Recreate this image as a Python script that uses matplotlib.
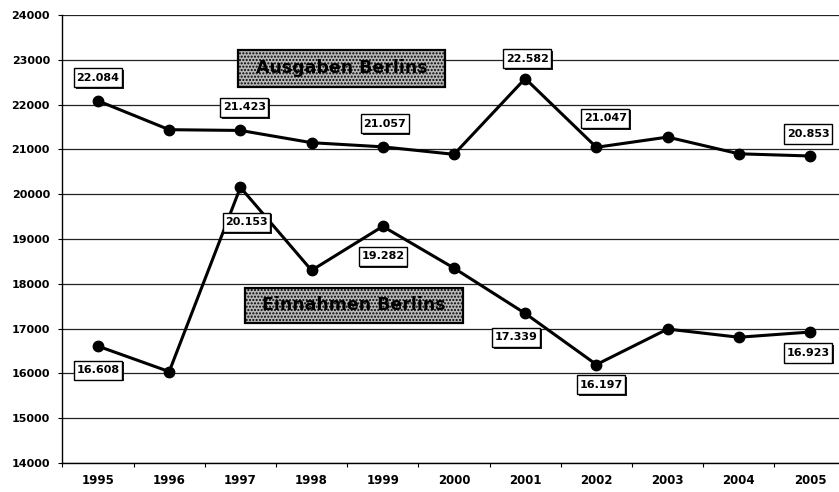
import numpy as np
import matplotlib.pyplot as plt
from matplotlib import patheffects as pe
from matplotlib.patches import Rectangle

# data
years = ['1995', '1996', '1997', '1998', '1999', '2000',
         '2001', '2002', '2003', '2004', '2005']
ausgaben = [22084, 21440, 21423, 21150, 21057, 20890,
            22582, 21047, 21275, 20902, 20853]
einnahmen = [16608, 16040, 20153, 18300, 19282, 18350,
             17339, 16197, 16990, 16807, 16923]

# which points carry a value label, and where the label sits (offset in px)
aus_labels = {0: (0, 23), 2: (4, 23), 4: (2, 23), 6: (2, 20), 7: (9, 29), 10: (-2, 22)}
ein_labels = {0: (0, -24), 2: (6, -35), 4: (0, -30), 6: (-9, -24), 7: (5, -20), 10: (-2, -21)}

def fmt(v):
    # German thousands separator
    return '{:,}'.format(v).replace(',', '.')

W, H = 839, 492
fig = plt.figure(figsize=(W / 100, H / 100), dpi=100)
ax = fig.add_axes([62.4 / W, 29 / H, 783.2 / W, 448 / H])

x = np.arange(len(years))
for vals in (ausgaben, einnahmen):
    ax.plot(x, vals, color='black', lw=2.2, marker='o', markersize=7.5,
            solid_joinstyle='round', zorder=3)

ax.set_xlim(-0.5, len(years) - 0.5)
ax.set_ylim(14000, 24000)
ax.set_yticks(np.arange(14000, 24001, 1000))
ax.yaxis.grid(True, color='#222222', lw=0.9)
ax.set_axisbelow(True)

ax.set_xticks(x)
ax.set_xticklabels(years)
ax.set_xticks(np.arange(-0.5, len(years), 1), minor=True)
ax.tick_params(axis='x', which='major', length=0, pad=8)
ax.tick_params(axis='x', which='minor', length=3, direction='out', width=0.8)
ax.tick_params(axis='y', length=3, direction='out', width=0.8, pad=6)
for lab in ax.get_xticklabels():
    lab.set_fontfamily('DejaVu Sans')
    lab.set_fontweight('bold')
    lab.set_fontsize(8.5)
for lab in ax.get_yticklabels():
    lab.set_fontfamily('DejaVu Sans')
    lab.set_fontweight('bold')
    lab.set_fontsize(8)

for s in ('top', 'right'):
    ax.spines[s].set_visible(False)
ax.spines['left'].set_linewidth(1.0)
ax.spines['bottom'].set_linewidth(1.0)

shadow = [pe.SimplePatchShadow(offset=(1.2, -1.2), shadow_rgbFace='black', alpha=0.9),
          pe.Normal()]

def value_label(i, vals, off):
    t = ax.annotate(fmt(vals[i]), (x[i], vals[i]),
                    xytext=(off[0] * 0.72, off[1] * 0.72), textcoords='offset points',
                    ha='center', va='center', fontsize=8, fontweight='bold',
                    family='DejaVu Sans', zorder=5,
                    bbox=dict(boxstyle='square,pad=0.22', mutation_aspect=1.9,
                              fc='white', ec='black', lw=1.0))
    t.get_bbox_patch().set_path_effects(shadow)

for i, off in aus_labels.items():
    value_label(i, ausgaben, off)
for i, off in ein_labels.items():
    value_label(i, einnahmen, off)

# series titles in grey dotted boxes (pixel boxes: x0, y0 from top, x1, y1)
def title_box(text, x0, y0, x1, y1):
    r = Rectangle((x0 / W, 1 - y1 / H), (x1 - x0) / W, (y1 - y0) / H,
                  transform=fig.transFigure, fc='#b8b8b8', ec='black', lw=1.6,
                  hatch='.....', zorder=4)
    fig.add_artist(r)
    fig.text((x0 + x1) / 2 / W, 1 - (y0 + y1) / 2 / H, text, ha='center', va='center',
             fontsize=12.5, fontweight='bold', family='DejaVu Sans', zorder=5)

title_box('Ausgaben Berlins', 238, 50, 445, 87)
title_box('Einnahmen Berlins', 245, 288, 463, 323)

plt.savefig('out.png', dpi=100)
